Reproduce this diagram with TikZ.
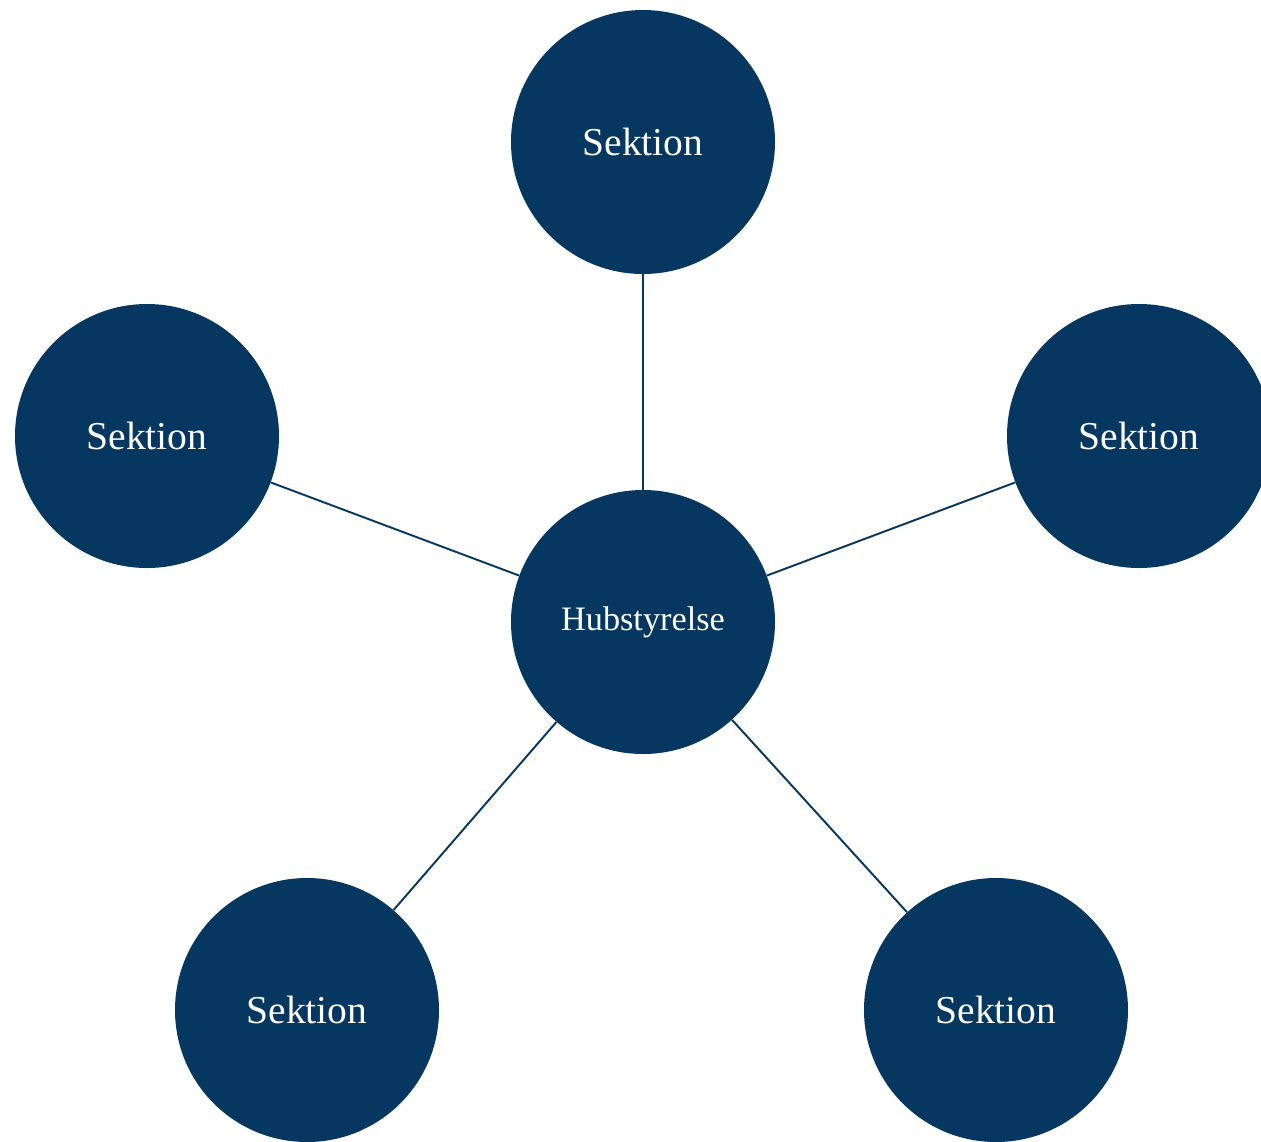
\documentclass[tikz,border=0pt]{standalone}
\usepackage{fontspec}
\setmainfont{Liberation Serif}
\definecolor{hubblue}{HTML}{053760}
\tikzset{
  sektion/.style={circle,fill=hubblue,minimum size=5.28cm,inner sep=0pt,text=white,font=\fontsize{22.5}{26}\selectfont},
  styrelse/.style={sektion,font=\fontsize{19.5}{23}\selectfont},
  link/.style={draw=hubblue,line width=1.1pt}
}
\begin{document}
\begin{tikzpicture}
\useasboundingbox (0,0) rectangle (25.22,-22.82);
\clip (0,0) rectangle (25.22,-22.82);
\node[styrelse] (hub) at (12.86,-12.44) {Hubstyrelse};
\node[sektion] (top) at (12.86,-2.84) {Sektion};
\node[sektion] (left) at (2.94,-8.72) {Sektion};
\node[sektion] (right) at (22.78,-8.72) {Sektion};
\node[sektion] (bleft) at (6.14,-20.2) {Sektion};
\node[sektion] (bright) at (19.92,-20.2) {Sektion};
\foreach \s in {top,left,right,bleft,bright}
  \draw[link] (hub) -- (\s);
\end{tikzpicture}
\end{document}
